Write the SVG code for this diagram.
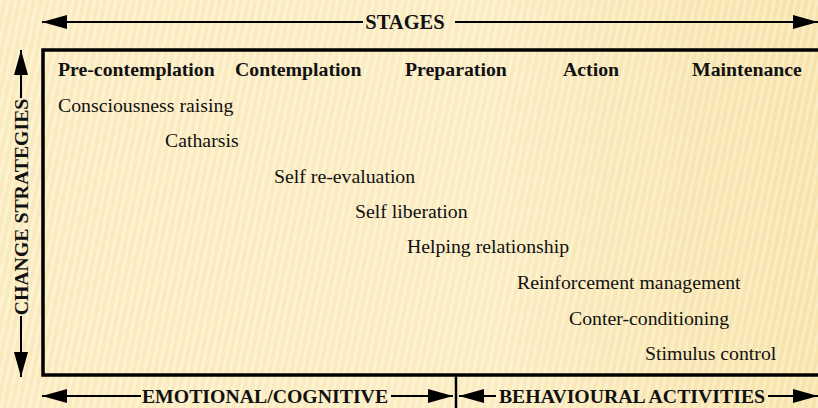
<svg xmlns="http://www.w3.org/2000/svg" width="818" height="408" viewBox="0 0 818 408">
  <defs>
    <pattern id="stripes" width="7" height="40" patternUnits="userSpaceOnUse" patternTransform="rotate(12)">
      <rect width="7" height="40" fill="#f8e5b0"/>
      <rect x="0" width="3" height="40" fill="#fcf0cc"/>
    </pattern>
    <linearGradient id="glow" x1="0" y1="0" x2="1" y2="0">
      <stop offset="0" stop-color="#fff6dc" stop-opacity="0.3"/>
      <stop offset="0.6" stop-color="#fff8e0" stop-opacity="0.35"/>
      <stop offset="1" stop-color="#f3dc9c" stop-opacity="0.2"/>
    </linearGradient>
    <marker id="head" viewBox="0 0 10 10" refX="10" refY="5" markerWidth="25" markerHeight="14" markerUnits="userSpaceOnUse" orient="auto-start-reverse" preserveAspectRatio="none">
      <path d="M0,0 L10,5 L0,10 Z" fill="#000"/>
    </marker>
    <style>
      .hdr { font-family: "Liberation Serif", "Times New Roman", serif; font-weight: bold; font-size: 19.8px; fill: #111; }
      .lbl { font-family: "Liberation Serif", "Times New Roman", serif; font-size: 19.8px; fill: #111; }
      .axis { font-family: "Liberation Serif", "Times New Roman", serif; font-weight: bold; font-size: 19.8px; fill: #111; }
      .ln { stroke: #000; stroke-width: 2; fill: none; }
    </style>
  </defs>

  <!-- background -->
  <rect width="818" height="408" fill="url(#stripes)"/>
  <rect width="818" height="408" fill="url(#glow)"/>

  <!-- frame -->
  <g id="frame">
    <rect x="43" y="50" width="790" height="325" fill="none" stroke="#000" stroke-width="3.5"/>
    <line x1="456" y1="375" x2="456" y2="408" stroke="#000" stroke-width="2.5"/>
  </g>

  <!-- axis arrows -->
  <g id="connectors">
    <line class="ln" x1="363" y1="22" x2="42" y2="22" marker-end="url(#head)"/>
    <line class="ln" x1="455" y1="22" x2="818" y2="22" marker-end="url(#head)"/>
    <line class="ln" x1="21" y1="98" x2="21" y2="50" marker-end="url(#head)"/>
    <line class="ln" x1="21" y1="316" x2="21" y2="377" marker-end="url(#head)"/>
    <line class="ln" x1="141" y1="396" x2="42" y2="396" marker-end="url(#head)"/>
    <line class="ln" x1="391" y1="396" x2="453" y2="396" marker-end="url(#head)"/>
    <line class="ln" x1="496" y1="396" x2="459" y2="396" marker-end="url(#head)"/>
    <line class="ln" x1="768" y1="396" x2="818" y2="396" marker-end="url(#head)"/>
  </g>

  <g id="axis-stages"><text class="axis" x="405" y="29" text-anchor="middle" style="font-size:20.5px">STAGES</text></g>
  <g id="axis-strategies"><text class="axis" transform="translate(28,207) rotate(-90)" text-anchor="middle">CHANGE STRATEGIES</text></g>
  <g id="axis-emotional"><text class="axis" x="265" y="403" text-anchor="middle">EMOTIONAL/COGNITIVE</text></g>
  <g id="axis-behavioural"><text class="axis" x="632" y="403" text-anchor="middle">BEHAVIOURAL ACTIVITIES</text></g>

  <!-- stage headings -->
  <g id="stage-precontemplation"><text class="hdr" x="58" y="76">Pre-contemplation</text></g>
  <g id="stage-contemplation"><text class="hdr" x="235" y="76">Contemplation</text></g>
  <g id="stage-preparation"><text class="hdr" x="405" y="76">Preparation</text></g>
  <g id="stage-action"><text class="hdr" x="563" y="76">Action</text></g>
  <g id="stage-maintenance"><text class="hdr" x="692" y="76">Maintenance</text></g>

  <!-- strategies -->
  <g id="s-consciousness"><text class="lbl" x="58" y="112">Consciousness raising</text></g>
  <g id="s-catharsis"><text class="lbl" x="165" y="147">Catharsis</text></g>
  <g id="s-reevaluation"><text class="lbl" x="274" y="183">Self re-evaluation</text></g>
  <g id="s-liberation"><text class="lbl" x="355" y="218">Self liberation</text></g>
  <g id="s-helping"><text class="lbl" x="407" y="253">Helping relationship</text></g>
  <g id="s-reinforcement"><text class="lbl" x="517" y="289">Reinforcement management</text></g>
  <g id="s-conter"><text class="lbl" x="569" y="325">Conter-conditioning</text></g>
  <g id="s-stimulus"><text class="lbl" x="645" y="360">Stimulus control</text></g>
</svg>
